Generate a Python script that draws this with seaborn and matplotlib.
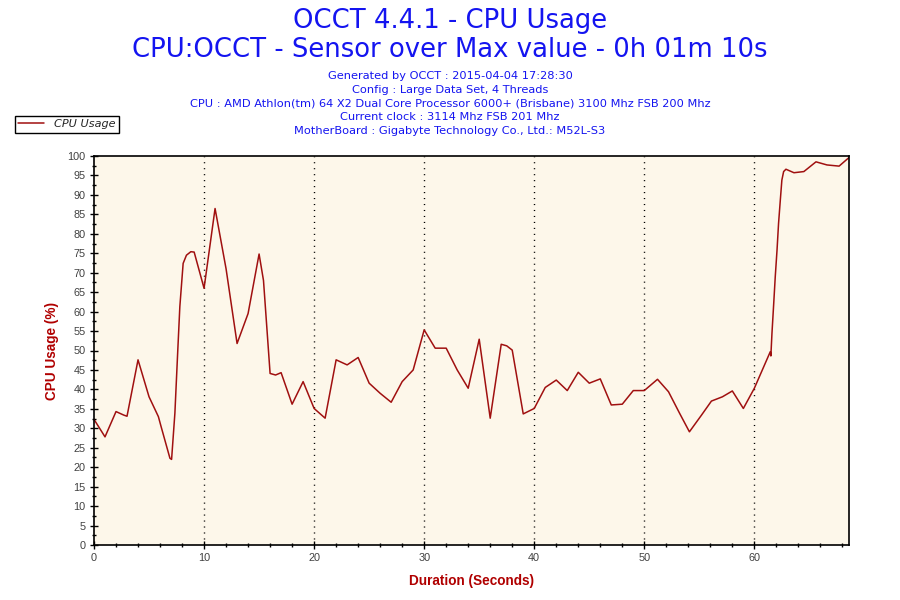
import numpy as np
import pandas as pd
import seaborn as sns
from matplotlib import pyplot as plt
from matplotlib.ticker import MultipleLocator

# readings (seconds, % usage)
seconds = [0, 1, 2, 2.7, 3, 4, 5, 5.85, 6.1, 6.9, 7.05, 7.35, 7.6, 7.8, 8.1, 8.4, 8.8, 9.1,
           10, 11, 12, 13, 14, 15, 15.4, 16, 16.5, 17, 18, 19, 20, 21, 22, 23, 24, 25, 26,
           27, 28, 29, 30, 31, 32, 33, 34, 35, 36, 37, 37.5, 38, 39, 40, 41, 42, 43, 44,
           45, 46, 47, 48, 49, 50, 51.2, 52.2, 53.2, 54.1, 55.2, 56.1, 57.1, 58, 59, 60,
           61.45, 61.5, 61.6, 61.76, 61.9, 62.06, 62.2, 62.36, 62.5, 62.66, 62.87, 63.6,
           64.5, 65.6, 66.6, 67.7, 68.6]
usage = [32.3, 27.8, 34.3, 33.4, 33.1, 47.6, 38.1, 33.0, 30.4, 22.3, 22.0, 33.9, 49.3, 61.3,
         72.4, 74.5, 75.4, 75.3, 66.0, 86.5, 71.0, 51.8, 59.5, 74.8, 68.0, 44.1, 43.7, 44.3,
         36.2, 42.0, 35.1, 32.6, 47.6, 46.3, 48.2, 41.6, 39.0, 36.7, 42.0, 45.0, 55.3, 50.6,
         50.6, 45.0, 40.3, 52.9, 32.6, 51.6, 51.2, 50.1, 33.7, 35.1, 40.5, 42.4, 39.7, 44.4,
         41.6, 42.7, 36.0, 36.2, 39.7, 39.7, 42.6, 39.4, 33.9, 29.1, 33.4, 37.0, 38.1, 39.6,
         35.1, 40.3, 49.7, 48.6, 54.4, 62.1, 69.0, 75.8, 82.7, 88.7, 93.8, 96.0, 96.6, 95.7,
         96.0, 98.5, 97.7, 97.4, 99.6]

title_lines = ["OCCT 4.4.1 - CPU Usage",
               "CPU:OCCT - Sensor over Max value - 0h 01m 10s"]
info_lines = ["Generated by OCCT : 2015-04-04 17:28:30",
              "Config : Large Data Set, 4 Threads",
              "CPU : AMD Athlon(tm) 64 X2 Dual Core Processor 6000+ (Brisbane) 3100 Mhz FSB 200 Mhz",
              "Current clock : 3114 Mhz FSB 201 Mhz",
              "MotherBoard : Gigabyte Technology Co., Ltd.: M52L-S3"]

df = pd.DataFrame({"Duration": seconds, "CPU Usage": usage})

sns.set_theme(style="ticks")
plt.rcParams['font.family'] = ['DejaVu Sans']

blue = '#1414F0'
red = '#A01010'

fig = plt.figure(figsize=(9, 6), dpi=100)
ax = fig.add_axes([94/900, 1-545/600, (849-94)/900, (545-156)/600])
ax.set_facecolor('#FDF7EA')

sns.lineplot(data=df, x="Duration", y="CPU Usage", sort=False, estimator=None,
             color=red, linewidth=1.1, ax=ax, label="CPU Usage")

ax.set_xlim(0, 68.6)
ax.set_ylim(0, 100)
ax.xaxis.set_major_locator(MultipleLocator(10))
ax.xaxis.set_minor_locator(MultipleLocator(2))
ax.yaxis.set_major_locator(MultipleLocator(5))
ax.yaxis.set_minor_locator(MultipleLocator(2.5))
ax.tick_params(which='major', direction='inout', length=6, width=1, color='black',
               labelsize=7.8, labelcolor='#404040', pad=3)
ax.tick_params(which='minor', direction='inout', length=3.5, width=1, color='black')
for lab in ax.get_xticklabels() + ax.get_yticklabels():
    lab.set_family('Liberation Sans')

# dotted vertical guides every 10 s
for x in range(10, 70, 10):
    ax.axvline(x, color='black', linestyle=(0, (0.8, 3.5)), linewidth=1.0, zorder=1)

for s in ax.spines.values():
    s.set_color('black')
    s.set_linewidth(1.2)

ax.set_xlabel("Duration (Seconds)", color='#B00000', fontweight='bold', fontsize=9.8,
              family='Liberation Sans', labelpad=8)
ax.set_ylabel("CPU Usage (%)", color='#B00000', fontweight='bold', fontsize=9.8,
              family='Liberation Sans', labelpad=6)

ax.get_legend().remove()
fig.legend(loc='upper left', bbox_to_anchor=(15/900, 1-116/600), borderaxespad=0,
           frameon=True, fancybox=False, edgecolor='black', framealpha=1,
           handlelength=2.3, handletextpad=0.9, borderpad=0.3,
           prop={'style': 'italic', 'size': 8.1})

fig.text(0.5, 1-21/600, title_lines[0], ha='center', va='center', color=blue, fontsize=18.6)
fig.text(0.5, 1-50/600, title_lines[1], ha='center', va='center', color=blue, fontsize=18.6)
for i, line in enumerate(info_lines):
    fig.text(0.5, 1-(76+13.8*i)/600, line, ha='center', va='center', color=blue, fontsize=8.2)

fig.savefig("out.png", dpi=100)
